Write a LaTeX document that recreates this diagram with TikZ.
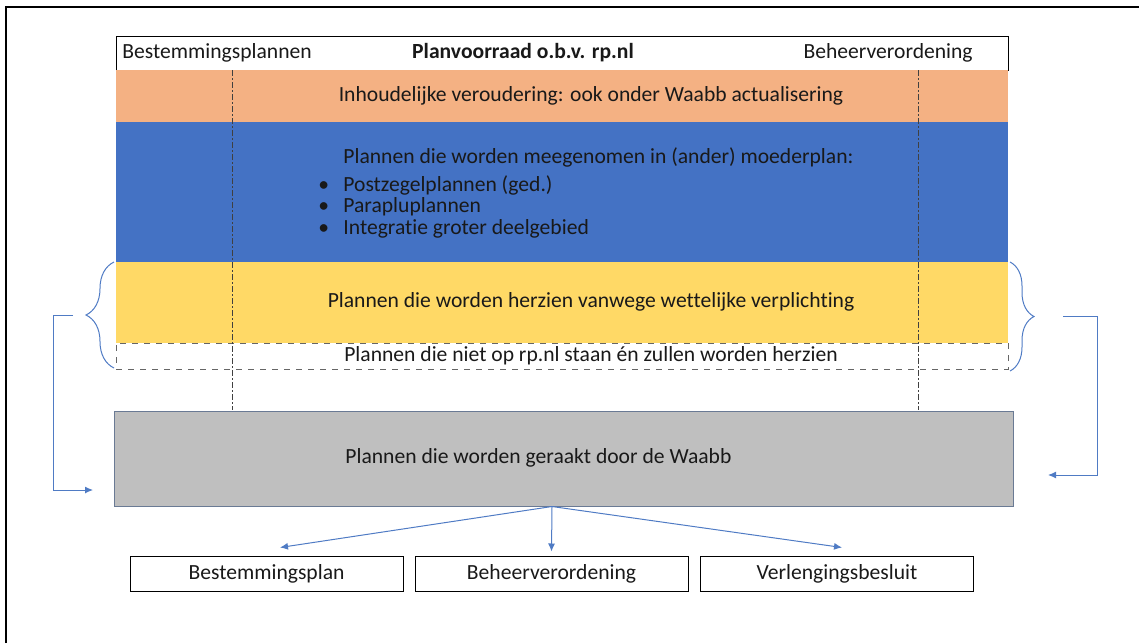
\documentclass[tikz,border=0pt]{standalone}
\usepackage{fontspec}
\setmainfont{Carlito}[RawFeature=-liga]
\usepackage{tikz}
\usetikzlibrary{positioning}
\usetikzlibrary{arrows.meta}
\usetikzlibrary{decorations.pathreplacing}
\definecolor{bandorange}{HTML}{F4B183}
\definecolor{bandblue}{HTML}{4472C4}
\definecolor{bandyellow}{HTML}{FFD966}
\definecolor{boxgray}{HTML}{BFBFBF}
\definecolor{grayedge}{HTML}{6A7A94}
\definecolor{linkblue}{HTML}{4F7BC4}

\begin{document}
\begin{tikzpicture}[x=0.5pt,y=-0.5pt,
    every node/.style={font=\fontsize{10.8}{13}\selectfont,inner sep=0pt,text=black!90},
    band/.style={minimum width=446pt,draw=none},
    outcome/.style={draw=black,line width=0.5pt,minimum width=136.5pt,minimum height=17.5pt},
    link/.style={draw=linkblue,line width=0.5pt,-{Latex[length=4pt,width=3.5pt]}},
    brace/.style={draw=linkblue,line width=0.5pt,decorate},
    divider/.style={draw=black!75,line width=0.5pt,dash pattern=on 3pt off 1.2pt on 0.6pt off 1.2pt}]
    \useasboundingbox (0,0) rectangle (1139,643);
    \draw [line width=1pt] (6,643) -- (6,7) -- (1139,7);

    % planvoorraad
    \node (header)[band,minimum height=17pt,draw=black,line width=0.5pt,fill=white] at (562,53) {};
    \node (bplannen)[anchor=west] at (122,53) {Bestemmingsplannen};
    \node (voorraad) at (523,53) {\bfseries Planvoorraad o.b.v. rp.nl};
    \node (bverord)[anchor=east] at (973,53) {Beheerverordening};

    \node (aging)[band,minimum height=26pt,fill=bandorange] at (562,96) {};
    \node (agingtext) at (591,96) {Inhoudelijke veroudering: ook onder Waabb actualisering};

    \node (merge)[band,minimum height=70pt,fill=bandblue] at (562,192) {};
    \node (mergetext)[anchor=west] at (343,157) {Plannen die worden meegenomen in (ander) moederplan:};
    \node (stamp)[anchor=west] at (318,185) {\makebox[12.5pt][l]{\textbullet}Postzegelplannen (ged.)};
    \node (umbrella)[anchor=west] at (318,207) {\makebox[12.5pt][l]{\textbullet}Parapluplannen};
    \node (region)[anchor=west] at (318,229) {\makebox[12.5pt][l]{\textbullet}Integratie groter deelgebied};

    \node (legal)[band,minimum height=40.5pt,fill=bandyellow] at (562,302.5) {};
    \node (legaltext) at (591,302) {Plannen die worden herzien vanwege wettelijke verplichting};

    \node (missing)[band,minimum height=13pt,draw=black!60,dashed,line width=0.5pt] at (562,356) {};
    \node (missingtext) at (591,356) {Plannen die niet op rp.nl staan én zullen worden herzien};

    \draw [divider] (232,70) -- (232,410);
    \draw [divider] (918,70) -- (918,410);

    % geraakt door de Waabb
    \node (affected)[fill=boxgray,draw=grayedge,line width=0.5pt,minimum width=449.5pt,minimum height=47.5pt] at (563.5,458.5) {};
    \node (affectedtext)[anchor=west] at (345,458) {Plannen die worden geraakt door de Waabb};

    \draw [brace,decoration={brace,amplitude=14pt}] (114,368) -- (114,262);
    \draw [brace,decoration={brace,amplitude=12pt}] (1010,262) -- (1010,371);
    \coordinate (lefttip) at (86,315);
    \coordinate (leftin) at (93,490);
    \coordinate (righttip) at (1034,316);
    \coordinate (rightin) at (1048,475);
    \draw [link] ([xshift=-6.5pt]lefttip) -- ++(-20,0) |- (leftin);
    \draw [link] ([xshift=14.5pt]righttip) -- ++(34,0) |- (rightin);

    % uitkomsten
    \node (plan)[outcome] at (266.5,573.5) {Bestemmingsplan};
    \node (ordinance)[outcome] at (551.5,573.5) {Beheerverordening};
    \node (extension)[outcome] at (837,573.5) {Verlengingsbesluit};

    \coordinate (split) at ([xshift=-5.75pt]affected.south);
    \path (split) edge [link] ([xshift=6.75pt,yshift=4pt]plan.north);
    \path (split) edge [link] ([yshift=2pt]ordinance.north);
    \path (split) edge [link] ([xshift=2.5pt,yshift=4pt]extension.north);
\end{tikzpicture}
\end{document}
